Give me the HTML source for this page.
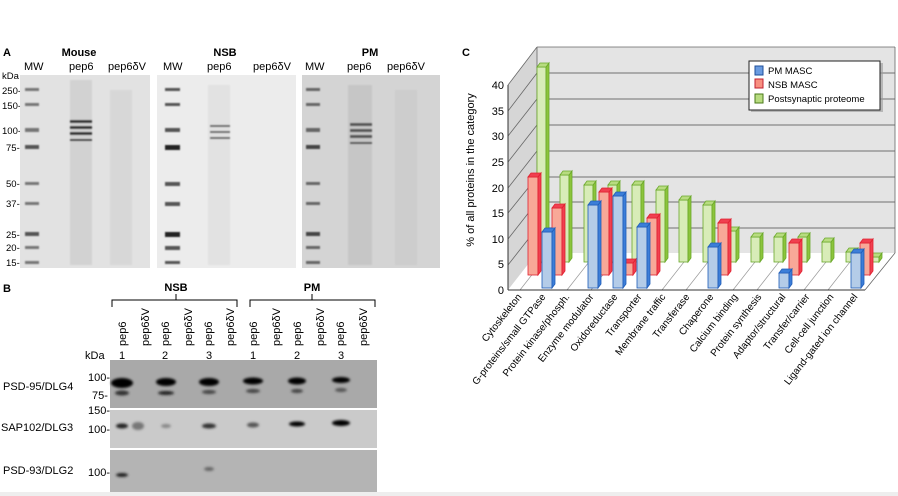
<!DOCTYPE html>
<html><head><meta charset="utf-8"><style>
html,body{margin:0;padding:0;background:#fff;}
svg{display:block;font-family:"Liberation Sans",Arial,sans-serif;}
</style></head><body>
<svg width="898" height="496" viewBox="0 0 898 496">
<defs>
<filter id="bl" x="-50%" y="-50%" width="200%" height="200%"><feGaussianBlur stdDeviation="1.2"/></filter>
<filter id="bl2" x="-50%" y="-50%" width="200%" height="200%"><feGaussianBlur stdDeviation="0.7"/></filter>
</defs>
<rect width="898" height="496" fill="#fff"/>
<!-- Panel A -->
<text x="3" y="56" font-size="11" font-weight="bold">A</text>
<text x="79" y="56" font-size="11" font-weight="bold" text-anchor="middle">Mouse</text>
<text x="225" y="56" font-size="11" font-weight="bold" text-anchor="middle">NSB</text>
<text x="370" y="56" font-size="11" font-weight="bold" text-anchor="middle">PM</text>
<g font-size="11">
<text x="24" y="70">MW</text><text x="69" y="70">pep6</text><text x="108" y="70">pep6δV</text>
<text x="163" y="70">MW</text><text x="207" y="70">pep6</text><text x="253" y="70">pep6δV</text>
<text x="305" y="70">MW</text><text x="347" y="70">pep6</text><text x="387" y="70">pep6δV</text>
</g>
<g font-size="9.5">
<text x="2" y="79">kDa</text>
<text x="2" y="94">250-</text><text x="2" y="109">150-</text><text x="2" y="134">100-</text>
<text x="6" y="151">75-</text><text x="6" y="187">50-</text><text x="6" y="207">37-</text>
<text x="6" y="238">25-</text><text x="6" y="251">20-</text><text x="6" y="266">15-</text>
</g>
<rect x="20" y="75" width="130" height="193" fill="#e2e2e2"/>
<rect x="157" y="75" width="139" height="193" fill="#ececec"/>
<rect x="302" y="75" width="138" height="193" fill="#d4d4d4"/>
<g filter="url(#bl2)">
<!-- ladders -->
<g fill="#777"><rect x="25" y="88" width="14" height="3"/><rect x="25" y="103" width="14" height="3"/><rect x="25" y="128" width="14" height="4"/><rect x="25" y="145" width="14" height="4" fill="#555"/><rect x="25" y="182" width="14" height="3"/><rect x="25" y="202" width="14" height="3"/><rect x="25" y="232" width="14" height="4" fill="#555"/><rect x="25" y="246" width="14" height="3"/><rect x="25" y="261" width="14" height="3"/></g>
<g fill="#555"><rect x="165" y="88" width="15" height="3"/><rect x="165" y="103" width="15" height="3"/><rect x="165" y="128" width="15" height="4"/><rect x="165" y="145" width="15" height="5" fill="#222"/><rect x="165" y="182" width="15" height="4"/><rect x="165" y="202" width="15" height="4"/><rect x="165" y="232" width="15" height="5" fill="#222"/><rect x="165" y="246" width="15" height="4"/><rect x="165" y="261" width="15" height="3"/></g>
<g fill="#666"><rect x="306" y="88" width="14" height="3"/><rect x="306" y="103" width="14" height="3"/><rect x="306" y="128" width="14" height="4"/><rect x="306" y="145" width="14" height="4" fill="#444"/><rect x="306" y="182" width="14" height="3"/><rect x="306" y="202" width="14" height="3"/><rect x="306" y="232" width="14" height="4" fill="#444"/><rect x="306" y="246" width="14" height="3"/><rect x="306" y="261" width="14" height="3"/></g>
<!-- sample lanes -->
<rect x="70" y="80" width="22" height="185" fill="#c8c8c8" opacity="0.6"/>
<g fill="#333"><rect x="70" y="120" width="22" height="3"/><rect x="70" y="126" width="22" height="3"/><rect x="70" y="132" width="22" height="3"/><rect x="70" y="139" width="22" height="2"/></g>
<rect x="110" y="90" width="22" height="175" fill="#d0d0d0" opacity="0.6"/>
<rect x="208" y="85" width="22" height="180" fill="#dadada" opacity="0.6"/>
<g fill="#666"><rect x="210" y="125" width="20" height="2"/><rect x="210" y="131" width="20" height="2"/><rect x="210" y="137" width="20" height="2"/></g>
<rect x="348" y="85" width="24" height="180" fill="#bdbdbd" opacity="0.6"/>
<g fill="#555"><rect x="350" y="123" width="22" height="3"/><rect x="350" y="129" width="22" height="3"/><rect x="350" y="135" width="22" height="3"/><rect x="350" y="142" width="22" height="2"/></g>
<rect x="395" y="90" width="22" height="175" fill="#c6c6c6" opacity="0.5"/>
</g>
<!-- Panel B -->
<text x="3" y="292" font-size="11" font-weight="bold">B</text>
<text x="176" y="291" font-size="11" font-weight="bold" text-anchor="middle">NSB</text>
<text x="312" y="291" font-size="11" font-weight="bold" text-anchor="middle">PM</text>
<g stroke="#000" fill="none" stroke-width="1">
<path d="M112 307V300H237V307M176 300V294"/><path d="M250 307V300H375V307M312 300V294"/>
</g>
<g font-size="11">
<text transform="translate(126,346) rotate(-90)">pep6</text>
<text transform="translate(149,346) rotate(-90)">pep6δV</text>
<text transform="translate(169,346) rotate(-90)">pep6</text>
<text transform="translate(192,346) rotate(-90)">pep6δV</text>
<text transform="translate(212,346) rotate(-90)">pep6</text>
<text transform="translate(234,346) rotate(-90)">pep6δV</text>
<text transform="translate(257,346) rotate(-90)">pep6</text>
<text transform="translate(280,346) rotate(-90)">pep6δV</text>
<text transform="translate(301,346) rotate(-90)">pep6</text>
<text transform="translate(324,346) rotate(-90)">pep6δV</text>
<text transform="translate(344,346) rotate(-90)">pep6</text>
<text transform="translate(367,346) rotate(-90)">pep6δV</text>
<text x="85" y="359">kDa</text>
<text x="122" y="359" text-anchor="middle">1</text><text x="165" y="359" text-anchor="middle">2</text><text x="209" y="359" text-anchor="middle">3</text>
<text x="253" y="359" text-anchor="middle">1</text><text x="297" y="359" text-anchor="middle">2</text><text x="341" y="359" text-anchor="middle">3</text>
<text x="3" y="390">PSD-95/DLG4</text>
<text x="1" y="431">SAP102/DLG3</text>
<text x="3" y="474">PSD-93/DLG2</text>
<text x="88" y="381">100-</text><text x="92" y="399">75-</text>
<text x="88" y="414">150-</text><text x="88" y="433">100-</text>
<text x="88" y="476">100-</text>
</g>
<rect x="110" y="360" width="267" height="48" fill="#a9a9a9"/>
<rect x="110" y="410" width="267" height="38" fill="#cacaca"/>
<rect x="110" y="450" width="267" height="42" fill="#b4b4b4"/>
<g filter="url(#bl)" fill="#000">
<ellipse cx="122" cy="383" rx="11" ry="5"/><ellipse cx="122" cy="393" rx="7" ry="2.5" fill="#333"/>
<ellipse cx="166" cy="382" rx="10" ry="4"/><ellipse cx="166" cy="393" rx="8" ry="2" fill="#222"/>
<ellipse cx="209" cy="382" rx="10" ry="4"/><ellipse cx="209" cy="392" rx="7" ry="2" fill="#444"/>
<ellipse cx="253" cy="381" rx="10" ry="3.5"/><ellipse cx="253" cy="391" rx="7" ry="2" fill="#444"/>
<ellipse cx="297" cy="381" rx="9" ry="3.5"/><ellipse cx="297" cy="391" rx="6" ry="2" fill="#444"/>
<ellipse cx="341" cy="380" rx="9" ry="3"/><ellipse cx="341" cy="390" rx="6" ry="2" fill="#555"/>
<ellipse cx="122" cy="426" rx="6" ry="2.5" fill="#222"/><ellipse cx="138" cy="426" rx="6" ry="4" fill="#777"/>
<ellipse cx="166" cy="426" rx="5" ry="2" fill="#888"/><ellipse cx="209" cy="426" rx="7" ry="2.5" fill="#333"/>
<ellipse cx="253" cy="425" rx="6" ry="2.5" fill="#555"/><ellipse cx="297" cy="424" rx="8" ry="2.5"/>
<ellipse cx="341" cy="423" rx="9" ry="3"/>
<ellipse cx="122" cy="475" rx="6" ry="2" fill="#222"/><ellipse cx="209" cy="469" rx="5" ry="2" fill="#666"/>
</g>
<rect x="0" y="492" width="898" height="4" fill="#eeeeee"/>
<!-- Panel C -->
<text x="462" y="56" font-size="11" font-weight="bold">C</text>
<polygon points="537,47 895,47 895,253 537,253" fill="#e4e4e4"/>
<polygon points="508,85 537,47 537,253 508,290" fill="#d6d6d6"/>
<polygon points="508,290 537,253 895,253 865,290" fill="#fff"/>
<g stroke="#888" stroke-width="1.2">
<line x1="537" y1="73" x2="895" y2="73"/><line x1="537" y1="99" x2="895" y2="99"/><line x1="537" y1="125" x2="895" y2="125"/>
<line x1="537" y1="151" x2="895" y2="151"/><line x1="537" y1="177" x2="895" y2="177"/><line x1="537" y1="202" x2="895" y2="202"/>
<line x1="537" y1="228" x2="895" y2="228"/>
</g>
<g stroke="#666" stroke-width="0.8">
<line x1="508" y1="85" x2="537" y2="47"/><line x1="508" y1="111" x2="537" y2="73"/><line x1="508" y1="136" x2="537" y2="99"/>
<line x1="508" y1="162" x2="537" y2="125"/><line x1="508" y1="188" x2="537" y2="151"/><line x1="508" y1="213" x2="537" y2="177"/>
<line x1="508" y1="239" x2="537" y2="202"/><line x1="508" y1="265" x2="537" y2="228"/>
<line x1="537" y1="47" x2="895" y2="47"/><line x1="537" y1="47" x2="537" y2="253"/><line x1="895" y1="47" x2="895" y2="253"/>
<line x1="865" y1="290" x2="895" y2="253"/>
</g>
<g stroke="#999" stroke-width="0.7">
<line x1="520" y1="290" x2="549" y2="253"/><line x1="567" y1="290" x2="596" y2="253"/><line x1="591" y1="290" x2="620" y2="253"/>
<line x1="662" y1="290" x2="691" y2="253"/><line x1="686" y1="290" x2="715" y2="253"/><line x1="733" y1="290" x2="762" y2="253"/>
<line x1="757" y1="290" x2="786" y2="253"/><line x1="804" y1="290" x2="833" y2="253"/><line x1="828" y1="290" x2="857" y2="253"/>
</g>
<line x1="508" y1="85" x2="508" y2="290" stroke="#333"/>
<line x1="508" y1="290" x2="865" y2="290" stroke="#333"/>
<g font-size="11" text-anchor="end">
<text x="504" y="89">40</text><text x="504" y="115">35</text><text x="504" y="140">30</text><text x="504" y="166">25</text>
<text x="504" y="192">20</text><text x="504" y="217">15</text><text x="504" y="243">10</text><text x="504" y="268">5</text><text x="504" y="294">0</text>
</g>
<text transform="translate(474,170) rotate(-90)" font-size="11" text-anchor="middle">% of all proteins in the category</text>
<!-- bars: green back -->
<g id="bars"></g>
<g stroke-width="0.8">
<!-- green -->
<g fill="#d8ecb8" stroke="#6aa82a">
<rect x="537" y="67" width="9" height="195"/><rect x="560" y="175" width="9" height="87"/><rect x="584" y="185" width="9" height="77"/>
<rect x="608" y="185" width="9" height="77"/><rect x="632" y="185" width="9" height="77"/><rect x="656" y="190" width="9" height="72"/>
<rect x="679" y="200" width="9" height="62"/><rect x="703" y="205" width="9" height="57"/><rect x="727" y="231" width="9" height="31"/>
<rect x="751" y="237" width="9" height="25"/><rect x="774" y="237" width="9" height="25"/><rect x="798" y="237" width="9" height="25"/>
<rect x="822" y="242" width="9" height="20"/><rect x="846" y="252" width="9" height="10"/><rect x="870" y="257" width="9" height="5"/>
</g>
<g fill="#8cc43c" stroke="#6aa82a">
<polygon points="546,67 549,63 549,258 546,262"/><polygon points="569,175 572,171 572,258 569,262"/><polygon points="593,185 596,181 596,258 593,262"/>
<polygon points="617,185 620,181 620,258 617,262"/><polygon points="641,185 644,181 644,258 641,262"/><polygon points="665,190 668,186 668,258 665,262"/>
<polygon points="688,200 691,196 691,258 688,262"/><polygon points="712,205 715,201 715,258 712,262"/><polygon points="736,231 739,227 739,258 736,262"/>
<polygon points="760,237 763,233 763,258 760,262"/><polygon points="783,237 786,233 786,258 783,262"/><polygon points="807,237 810,233 810,258 807,262"/>
<polygon points="831,242 834,238 834,258 831,262"/><polygon points="855,252 858,248 858,258 855,262"/><polygon points="879,257 882,253 882,258 879,262"/>
</g>
<g fill="#b8dc80" stroke="#6aa82a">
<polygon points="537,67 540,63 549,63 546,67"/><polygon points="560,175 563,171 572,171 569,175"/><polygon points="584,185 587,181 596,181 593,185"/>
<polygon points="608,185 611,181 620,181 617,185"/><polygon points="632,185 635,181 644,181 641,185"/><polygon points="656,190 659,186 668,186 665,190"/>
<polygon points="679,200 682,196 691,196 688,200"/><polygon points="703,205 706,201 715,201 712,205"/><polygon points="727,231 730,227 739,227 736,231"/>
<polygon points="751,237 754,233 763,233 760,237"/><polygon points="774,237 777,233 786,233 783,237"/><polygon points="798,237 801,233 810,233 807,237"/>
<polygon points="822,242 825,238 834,238 831,242"/><polygon points="846,252 849,248 858,248 855,252"/><polygon points="870,257 873,253 882,253 879,257"/>
</g>
<!-- red -->
<g fill="#f8a898" stroke="#e02030">
<rect x="528" y="177" width="10" height="98"/><rect x="552" y="208" width="10" height="67"/><rect x="599" y="192" width="10" height="83"/>
<rect x="623" y="263" width="10" height="12"/><rect x="647" y="218" width="10" height="57"/><rect x="718" y="223" width="10" height="52"/>
<rect x="789" y="243" width="10" height="32"/><rect x="860" y="243" width="10" height="32"/>
</g>
<g fill="#f04050" stroke="#e02030">
<polygon points="538,177 541,173 541,271 538,275"/><polygon points="562,208 565,204 565,271 562,275"/><polygon points="609,192 612,188 612,271 609,275"/>
<polygon points="633,263 636,259 636,271 633,275"/><polygon points="657,218 660,214 660,271 657,275"/><polygon points="728,223 731,219 731,271 728,275"/>
<polygon points="799,243 802,239 802,271 799,275"/><polygon points="870,243 873,239 873,271 870,275"/>
<polygon points="528,177 531,173 541,173 538,177"/><polygon points="552,208 555,204 565,204 562,208"/><polygon points="599,192 602,188 612,188 609,192"/>
<polygon points="623,263 626,259 636,259 633,263"/><polygon points="647,218 650,214 660,214 657,218"/><polygon points="718,223 721,219 731,219 728,223"/>
<polygon points="789,243 792,239 802,239 799,243"/><polygon points="860,243 863,239 873,239 870,243"/>
</g>
<!-- blue -->
<g fill="#b4cce8" stroke="#1f5cb8">
<rect x="542" y="232" width="10" height="56"/><rect x="588" y="205" width="10" height="83"/><rect x="613" y="196" width="10" height="92"/>
<rect x="637" y="227" width="10" height="61"/><rect x="708" y="247" width="10" height="41"/><rect x="779" y="273" width="10" height="15"/>
<rect x="851" y="253" width="10" height="35"/>
</g>
<g fill="#3c7ed8" stroke="#1f5cb8">
<polygon points="552,232 555,228 555,284 552,288"/><polygon points="598,205 601,201 601,284 598,288"/><polygon points="623,196 626,192 626,284 623,288"/>
<polygon points="647,227 650,223 650,284 647,288"/><polygon points="718,247 721,243 721,284 718,288"/><polygon points="789,273 792,269 792,284 789,288"/>
<polygon points="861,253 864,249 864,284 861,288"/>
<polygon points="542,232 545,228 555,228 552,232"/><polygon points="588,205 591,201 601,201 598,205"/><polygon points="613,196 616,192 626,192 623,196"/>
<polygon points="637,227 640,223 650,223 647,227"/><polygon points="708,247 711,243 721,243 718,247"/><polygon points="779,273 782,269 792,269 789,273"/>
<polygon points="851,253 854,249 864,249 861,253"/>
</g>
</g>
<!-- legend -->
<rect x="751" y="63" width="132" height="49" fill="#999" opacity="0.6"/>
<rect x="749" y="61" width="131" height="49" fill="#fff" stroke="#222"/>
<rect x="755" y="66" width="8" height="9" fill="#6a9be0" stroke="#1f4f9a"/>
<rect x="755" y="79" width="8" height="9" fill="#f89080" stroke="#c02030"/>
<rect x="755" y="94" width="8" height="9" fill="#b8dc80" stroke="#4a7a1a"/>
<g font-size="9.5"><text x="768" y="74">PM MASC</text><text x="768" y="88">NSB MASC</text><text x="768" y="102">Postsynaptic proteome</text></g>
<!-- x labels -->
<g font-size="10" text-anchor="end">
<text transform="translate(522,297) rotate(-52)">Cytoskeleton</text>
<text transform="translate(546,297) rotate(-52)">G-proteins/small GTPase</text>
<text transform="translate(570,297) rotate(-52)">Protein kinase/phosph.</text>
<text transform="translate(594,297) rotate(-52)">Enzyme modulator</text>
<text transform="translate(618,297) rotate(-52)">Oxidoreductase</text>
<text transform="translate(642,297) rotate(-52)">Transporter</text>
<text transform="translate(666,297) rotate(-52)">Membrane traffic</text>
<text transform="translate(690,297) rotate(-52)">Transferase</text>
<text transform="translate(714,297) rotate(-52)">Chaperone</text>
<text transform="translate(738,297) rotate(-52)">Calcium binding</text>
<text transform="translate(762,297) rotate(-52)">Protein synthesis</text>
<text transform="translate(786,297) rotate(-52)">Adaptor/structural</text>
<text transform="translate(810,297) rotate(-52)">Transfer/carrier</text>
<text transform="translate(834,297) rotate(-52)">Cell-cell junction</text>
<text transform="translate(858,297) rotate(-52)">Ligand-gated ion channel</text>
</g>
</svg>
</body></html>
